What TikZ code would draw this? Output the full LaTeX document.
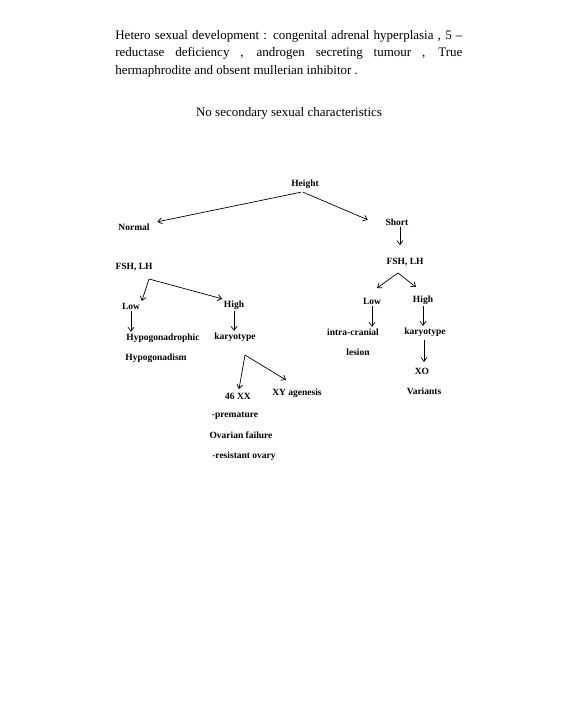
\documentclass[tikz,border=0pt]{standalone}
\usepackage{fontspec}
\setmainfont{Liberation Serif}
\usetikzlibrary{arrows.meta}

\begin{document}
\begin{tikzpicture}[x=1pt, y=-1pt, line width=0.7pt,
    >={Straight Barb[length=4pt,width=6pt]},
    lbl/.style={font=\fontsize{9.5}{11}\selectfont\bfseries, inner sep=1.5pt}]
    % Page
    \useasboundingbox (0,0) rectangle (576,727);

    % Intro text
    \node[anchor=north west, inner sep=0, text width=347pt, align=justify,
          font=\fontsize{13}{17.5}\selectfont] (intro) at (115,30)
        {Hetero sexual development : congenital adrenal hyperplasia , 5 --\linebreak
         reductase deficiency , androgen secreting tumour , True\linebreak
         hermaphrodite and obsent mullerian inhibitor .};
    \node[font=\fontsize{13}{15}\selectfont] (title) at (289,113) {No secondary sexual characteristics};

    % Top level
    \node[lbl] (hgt) at (305,184) {Height};
    \node[lbl] (nrm) at (134,227) {Normal};
    \node[lbl] (sht) at (397,222) {Short};
    \draw[->] (hgt.south) ++(-4,2) coordinate (hgtl) -- ([xshift=6pt]nrm.north east);
    \draw[->] (hgtl) ++(2,0) -- ([xshift=-16pt,yshift=-3pt]sht.north west);

    % Normal branch
    \node[lbl] (fshl) at (134,267) {FSH, LH};
    \coordinate (lapex) at (149,279);
    \node[lbl] (lowl) at (131,306) {Low};
    \node[lbl] (highl) at (234,305) {High};
    \draw[->] (lapex) -- (lowl.north east);
    \draw[->] (lapex) -- (highl.north west);
    \node[lbl] (hyp) at (163,338) {Hypogonadrophic};
    \node[lbl] (hypo) at (156,358) {Hypogonadism};
    \draw[->] (lowl.south) -- (lowl.south |- hyp.north);
    \node[lbl] (karl) at (235,337) {karyotype};
    \draw[->] (highl.south) -- (highl.south |- karl.north);
    \coordinate (kapex) at (245,355);
    \node[lbl] (xx) at (238,396) {46 XX};
    \node[lbl] (xy) at (297,393) {XY agenesis};
    \draw[->] (kapex) -- (239,389);
    \draw[->] (kapex) -- (286,380);
    \node[lbl] (prem) at (235,416) {-premature};
    \node[lbl] (ovf) at (241,435) {Ovarian failure};
    \node[lbl] (res) at (244,456) {-resistant ovary};

    % Short branch
    \node[lbl] (fshr) at (405,262) {FSH, LH};
    \draw[->] (sht.south) ++(3,0) -- ++(0,18);
    \coordinate (rapex) at (398,273);
    \node[lbl] (lowr) at (372,301) {Low};
    \node[lbl] (highr) at (423,300) {High};
    \draw[->] (rapex) -- (377,288);
    \draw[->] (rapex) -- (416,287);
    \node[lbl] (icr) at (353,332) {intra-cranial};
    \node[lbl] (les) at (358,352) {lesion};
    \draw[->] (lowr.south) -- (lowr.south |- icr.north);
    \node[lbl] (karr) at (425,332) {karyotype};
    \draw[->] (highr.south) -- (highr.south |- karr.north);
    \node[lbl] (xo) at (422,371) {XO};
    \draw[->] (karr.south) ++(-1,2) -- (424,362);
    \node[lbl] (var) at (424,391) {Variants};
\end{tikzpicture}
\end{document}
